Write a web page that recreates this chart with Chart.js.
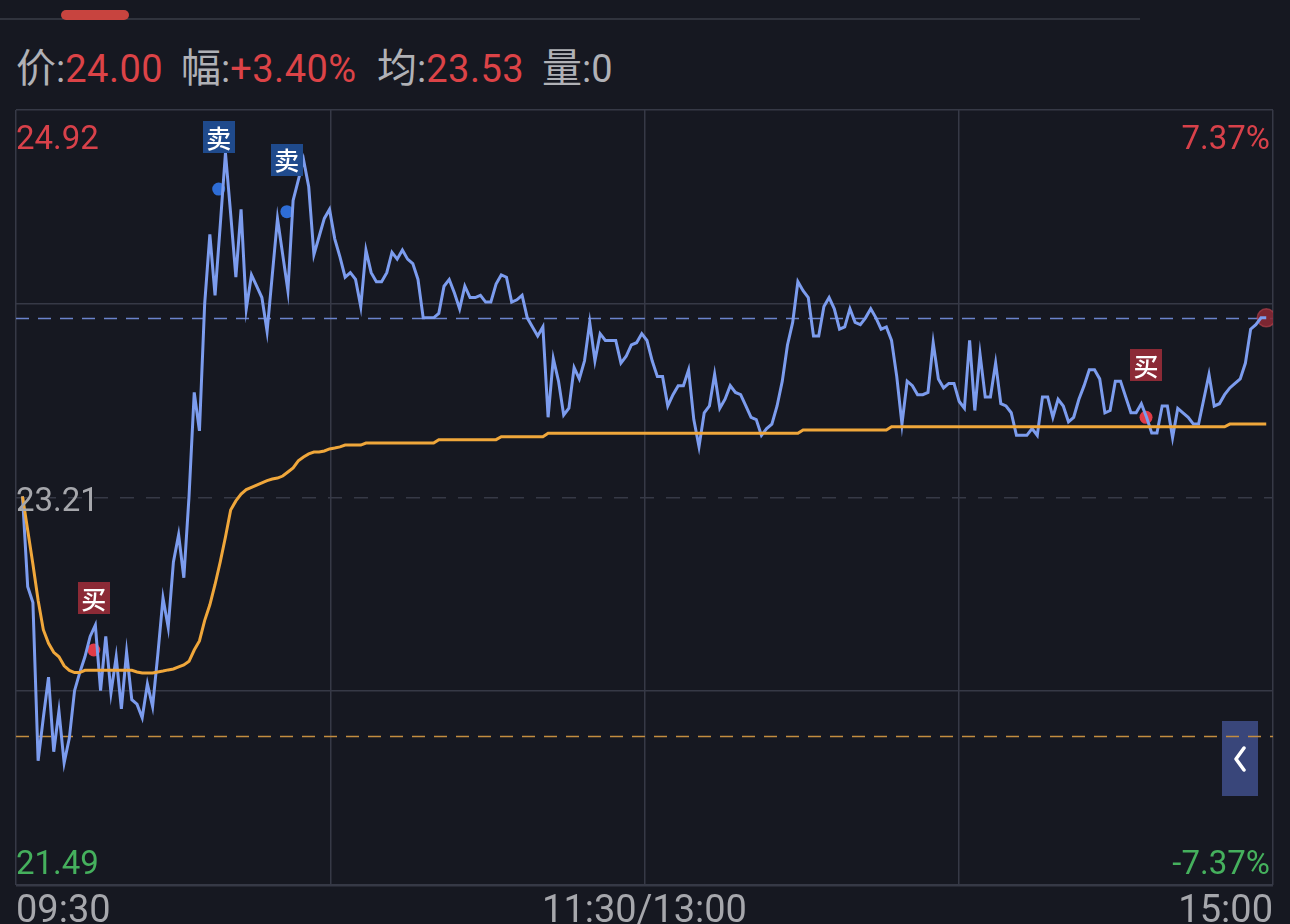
<!DOCTYPE html>
<html>
<head>
<meta charset="utf-8">
<script src="https://cdn.jsdelivr.net/npm/chart.js@4.4.1/dist/chart.umd.min.js"></script>
<style>
  html, body { margin: 0; padding: 0; background: #161821; width: 1290px; height: 924px; overflow: hidden; }
  #wrap { position: relative; width: 1290px; height: 924px; }
  #topline { position: absolute; left: 0; top: 18px; width: 1140px; height: 2px; background: #30333d; }
  #pill { position: absolute; left: 61px; top: 10px; width: 68px; height: 10px; border-radius: 5px; background: #c8443f; }
  .info { position: absolute; top: 40px; height: 50px; white-space: nowrap; color: #b0b1b6; font-family: Roboto, sans-serif; font-size: 38px; line-height: 50px; }
  .info .k { font-family: "Noto Sans CJK SC", sans-serif; font-size: 40px; }
  .info .v { color: #dc4347; letter-spacing: 0.5px; }
  #fold { position: absolute; left: 1222px; top: 721px; width: 36px; height: 75px; background: #39467a; }
  #fold svg { position: absolute; left: 11px; top: 25px; }
  canvas { position: absolute; left: 0; top: 0; }
</style>
</head>
<body>
<div id="wrap">
  <div id="topline"></div>
  <div id="pill"></div>
  <div class="info" style="left:16px"><span class="k">价</span>:<span class="v">24.00</span></div>
  <div class="info" style="left:181px"><span class="k">幅</span>:<span class="v">+3.40%</span></div>
  <div class="info" style="left:377px"><span class="k">均</span>:<span class="v">23.53</span></div>
  <div class="info" style="left:542px"><span class="k">量</span>:0</div>
  <div id="fold"><svg width="14" height="26"><polyline points="11,2 3,13 11,24" fill="none" stroke="#fff" stroke-width="3.5" stroke-linejoin="round" stroke-linecap="round"/></svg></div>
  <canvas id="c" width="1290" height="924"></canvas>
</div>
<script>
// minute-by-minute price (09:30 .. 15:00)
const prices = [
  23.21,22.81,22.74,22.04,22.23,22.41,22.08,22.26,22.03,22.14,22.35,22.43,22.50,22.59,22.64,22.35,22.59,22.34,22.50,22.27,
  22.52,22.31,22.29,22.23,22.38,22.28,22.51,22.76,22.63,22.92,23.04,22.85,23.21,23.67,23.50,24.06,24.37,24.10,24.41,24.73,
  24.46,24.18,24.48,24.04,24.19,24.14,24.09,23.94,24.19,24.44,24.28,24.12,24.52,24.61,24.70,24.58,24.28,24.36,24.44,24.48,
  24.35,24.27,24.18,24.20,24.17,24.05,24.30,24.20,24.16,24.16,24.20,24.29,24.26,24.30,24.26,24.24,24.17,24.00,24.00,24.00,
  24.02,24.14,24.17,24.11,24.04,24.14,24.09,24.09,24.10,24.07,24.07,24.15,24.19,24.18,24.07,24.08,24.10,24.00,23.96,23.92,
  23.96,23.56,23.82,23.72,23.57,23.60,23.78,23.73,23.81,23.98,23.81,23.93,23.90,23.90,23.90,23.80,23.83,23.88,23.89,23.93,
  23.90,23.81,23.74,23.74,23.61,23.66,23.70,23.70,23.77,23.55,23.43,23.58,23.61,23.75,23.60,23.64,23.70,23.67,23.66,23.61,
  23.56,23.55,23.48,23.51,23.53,23.61,23.72,23.88,23.98,24.16,24.12,24.09,23.92,23.92,24.05,24.09,24.04,23.95,23.96,24.04,
  23.98,23.97,24.00,24.04,24.00,23.95,23.96,23.90,23.74,23.53,23.72,23.70,23.66,23.66,23.67,23.89,23.73,23.69,23.71,23.71,
  23.63,23.60,23.90,23.59,23.84,23.65,23.65,23.80,23.62,23.61,23.58,23.48,23.48,23.48,23.51,23.48,23.65,23.65,23.56,23.64,
  23.61,23.54,23.56,23.64,23.70,23.77,23.77,23.73,23.58,23.59,23.72,23.72,23.65,23.58,23.58,23.62,23.56,23.49,23.49,23.61,
  23.61,23.47,23.60,23.58,23.56,23.53,23.53,23.64,23.75,23.61,23.62,23.66,23.69,23.71,23.73,23.80,23.95,23.97,24.00,24.00
];

// running average price
const avgPrices = [
  23.21,23.06,22.91,22.75,22.62,22.56,22.52,22.50,22.46,22.44,22.43,22.43,22.44,22.44,22.44,22.44,22.44,22.44,22.44,22.44,
  22.44,22.44,22.433,22.428,22.428,22.428,22.433,22.437,22.442,22.446,22.455,22.464,22.48,22.53,22.57,22.66,22.73,22.82,22.92,23.03,
  23.15,23.19,23.22,23.24,23.25,23.26,23.27,23.28,23.287,23.291,23.30,23.318,23.336,23.367,23.384,23.398,23.406,23.406,23.411,23.42,
  23.424,23.429,23.437,23.437,23.437,23.437,23.446,23.446,23.446,23.446,23.446,23.446,23.446,23.446,23.446,23.446,23.446,23.446,23.446,23.446,
  23.461,23.461,23.461,23.461,23.461,23.461,23.461,23.461,23.461,23.461,23.461,23.461,23.474,23.474,23.474,23.474,23.474,23.474,23.474,23.474,
  23.474,23.489,23.489,23.489,23.489,23.489,23.489,23.489,23.489,23.489,23.489,23.489,23.489,23.489,23.489,23.489,23.489,23.489,23.489,23.489,
  23.489,23.489,23.489,23.489,23.489,23.489,23.489,23.489,23.489,23.489,23.489,23.489,23.489,23.489,23.489,23.489,23.489,23.489,23.489,23.489,
  23.489,23.489,23.489,23.489,23.489,23.489,23.489,23.489,23.489,23.489,23.504,23.504,23.504,23.504,23.504,23.504,23.504,23.504,23.504,23.504,
  23.504,23.504,23.504,23.504,23.504,23.504,23.504,23.518,23.518,23.518,23.518,23.518,23.518,23.518,23.518,23.518,23.518,23.518,23.518,23.518,
  23.518,23.518,23.518,23.518,23.518,23.518,23.518,23.518,23.518,23.518,23.518,23.518,23.518,23.518,23.518,23.518,23.518,23.518,23.518,23.518,
  23.518,23.518,23.518,23.518,23.518,23.518,23.518,23.518,23.518,23.518,23.518,23.518,23.518,23.518,23.518,23.518,23.518,23.518,23.518,23.518,
  23.518,23.518,23.518,23.518,23.518,23.518,23.518,23.518,23.518,23.518,23.518,23.518,23.530,23.530,23.530,23.530,23.530,23.530,23.530,23.530
];

// trade marks (minute position, price)
const sellIdx = [37.7, 50.8];
const sellPrice = [24.57, 24.47];
const buyIdx = [13.7, 215.9];
const buyPrice = [22.53, 23.56];
const costPrice = 22.15;

// axis
const yMin = 21.49, yMax = 24.92;
const yTicks = [21.49, 22.3475, 23.205, 24.0625, 24.92];
const priceLabels = ['24.92', '23.21', '21.49'];
const pctLabels = ['7.37%', '-7.37%'];
const timeLabels = ['09:30', '11:30/13:00', '15:00'];

const RED = '#d8414a', GREEN = '#45b05d', GREY = '#a6a7ac';

const overlay = {
  id: 'overlay',
  beforeDatasetsDraw(chart) {
    const { ctx, chartArea: a, scales: { y } } = chart;
    ctx.save();
    ctx.lineWidth = 1.5;
    ctx.setLineDash([13, 9]);
    ctx.strokeStyle = '#6b83cc';
    let py = Math.round(y.getPixelForValue(prices[prices.length - 1])) + 0.5;
    ctx.beginPath(); ctx.moveTo(a.left, py); ctx.lineTo(a.right, py); ctx.stroke();
    ctx.strokeStyle = '#c38d40';
    py = Math.round(y.getPixelForValue(costPrice)) + 0.5;
    ctx.beginPath(); ctx.moveTo(a.left, py); ctx.lineTo(a.right, py); ctx.stroke();
    ctx.restore();
  },
  afterDatasetsDraw(chart) {
    const { ctx } = chart;
    ctx.save();
    const tag = (meta, txt, bg) => {
      meta.data.forEach(p => {
        ctx.fillStyle = bg;
        ctx.fillRect(Math.round(p.x - 16), Math.round(p.y - 68), 32, 32);
        ctx.fillStyle = '#ffffff';
        ctx.font = '500 25px "Noto Sans CJK SC"';
        ctx.textAlign = 'center';
        ctx.textBaseline = 'middle';
        ctx.fillText(txt, p.x, p.y - 51);
      });
    };
    tag(chart.getDatasetMeta(2), '卖', '#1f4a8c');
    tag(chart.getDatasetMeta(3), '买', '#8c2a36');
    ctx.restore();
  },
  afterDraw(chart) {
    const { ctx, chartArea: a } = chart;
    ctx.save();
    ctx.font = '33px Roboto';
    ctx.textBaseline = 'alphabetic';
    ctx.textAlign = 'left';
    ctx.fillStyle = RED;   ctx.fillText(priceLabels[0], a.left, 149);
    ctx.fillStyle = GREY;  ctx.fillText(priceLabels[1], a.left, 511);
    ctx.fillStyle = GREEN; ctx.fillText(priceLabels[2], a.left, 874);
    ctx.textAlign = 'right';
    ctx.fillStyle = RED;   ctx.fillText(pctLabels[0], a.right - 3, 149);
    ctx.fillStyle = GREEN; ctx.fillText(pctLabels[1], a.right - 3, 874);
    ctx.font = '38px Roboto';
    ctx.fillStyle = GREY;
    ctx.textAlign = 'left';   ctx.fillText(timeLabels[0], a.left, 922);
    ctx.textAlign = 'center'; ctx.fillText(timeLabels[1], (a.left + a.right) / 2, 922);
    ctx.textAlign = 'right';  ctx.fillText(timeLabels[2], a.right, 922);
    ctx.restore();
  }
};

const toPts = arr => arr.map((v, i) => ({ x: i, y: v }));

new Chart(document.getElementById('c'), {
  type: 'line',
  data: {
    datasets: [
      { label: '均价', data: toPts(avgPrices), borderColor: '#f0a73b', borderWidth: 3, pointRadius: 0, tension: 0 },
      { label: '价格', data: toPts(prices), borderColor: '#7c9cee', borderWidth: 3, pointRadius: 0, tension: 0 },
      { label: '卖', type: 'scatter', data: sellIdx.map((x, i) => ({ x, y: sellPrice[i] })), pointRadius: 6.5, backgroundColor: '#2e6dd6', borderWidth: 0 },
      { label: '买', type: 'scatter', data: buyIdx.map((x, i) => ({ x, y: buyPrice[i] })), pointRadius: 6.5, backgroundColor: '#e03b47', borderWidth: 0 },
      { label: '现价', type: 'scatter', data: [{ x: prices.length - 1, y: prices[prices.length - 1] }], pointRadius: 9, backgroundColor: 'rgba(135,40,52,0.9)', borderColor: 'rgba(190,70,80,0.6)', borderWidth: 1.5 }
    ]
  },
  options: {
    responsive: false,
    animation: false,
    devicePixelRatio: 1,
    layout: { padding: { left: 16, right: 17, top: 110, bottom: 39 } },
    plugins: { legend: { display: false }, tooltip: { enabled: false } },
    scales: {
      x: {
        type: 'linear', min: -1.25, max: 240.3,
        afterBuildTicks: s => { s.ticks = [0, 1, 2, 3, 4].map(k => ({ value: s.min + (s.max - s.min) * k / 4 })); },
        ticks: { display: false },
        grid: { color: '#363946', lineWidth: 1.5, drawTicks: false },
        border: { display: false }
      },
      y: {
        min: yMin, max: yMax,
        afterBuildTicks: s => { s.ticks = yTicks.map(v => ({ value: v })); },
        ticks: { display: false },
        grid: { color: '#363946', lineWidth: c => (c.index === 0 ? 2.5 : 1.5), drawTicks: false },
        border: { display: false, dash: c => (c.index === 2 ? [14, 12] : []) }
      }
    }
  },
  plugins: [overlay]
});
</script>
</body>
</html>
